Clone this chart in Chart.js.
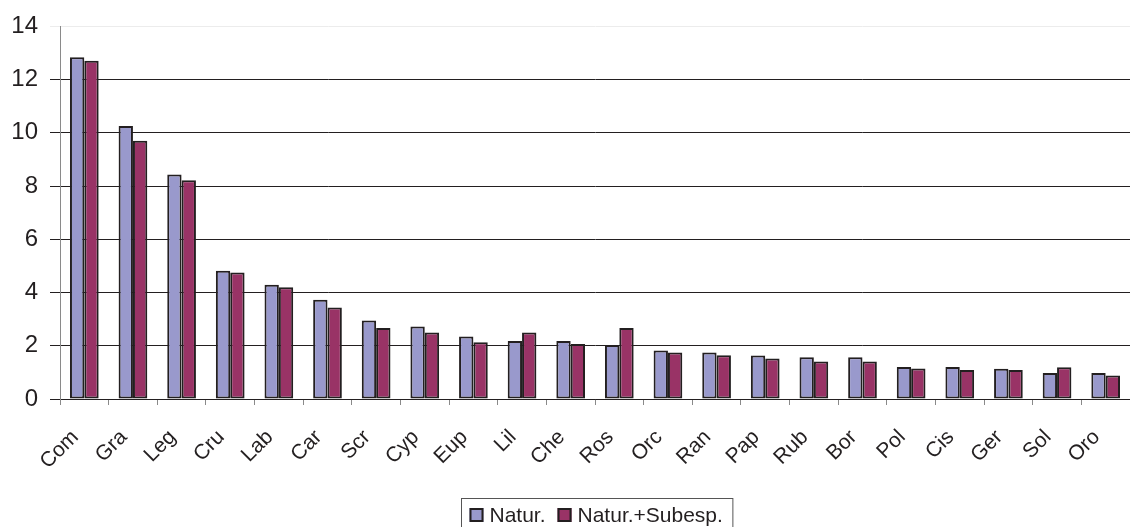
<!DOCTYPE html>
<html>
<head>
<meta charset="utf-8">
<script src="https://cdn.jsdelivr.net/npm/chart.js@4/dist/chart.umd.min.js"></script>
<style>
  html, body { margin: 0; padding: 0; background: #fff; }
  canvas { display: block; }
</style>
</head>
<body>
<canvas id="famChart" width="1130" height="527"></canvas>
<script>
var families = ['Com', 'Gra', 'Leg', 'Cru', 'Lab', 'Car', 'Scr', 'Cyp', 'Eup', 'Lil', 'Che',
    'Ros', 'Orc', 'Ran', 'Pap', 'Rub', 'Bor', 'Pol', 'Cis', 'Ger', 'Sol', 'Oro'];
var natur = [12.84, 10.26, 8.44, 4.82, 4.29, 3.73, 2.95, 2.72, 2.35, 2.18, 2.18,
    2.03, 1.82, 1.75, 1.63, 1.57, 1.57, 1.20, 1.20, 1.14, 0.98, 0.98];
var naturSubesp = [12.71, 9.70, 8.22, 4.75, 4.20, 3.44, 2.67, 2.50, 2.13, 2.50, 2.07,
    2.67, 1.75, 1.64, 1.52, 1.41, 1.41, 1.15, 1.09, 1.09, 1.19, 0.88];
var seriesNames = ['Natur.', 'Natur.+Subesp.'];
var yTicks = [0, 2, 4, 6, 8, 10, 12, 14];

var FONT = "'Liberation Sans', Arial, sans-serif";
var INK = '#231f20';

// legend in a framed box, like the original
var boxLegend = {
    id: 'boxLegend',
    afterDraw: function (chart) {
        var c = chart.ctx;
        var sets = chart.data.datasets;
        c.save();
        c.font = '21px ' + FONT;
        c.textBaseline = 'middle';
        var sw = 14, gap = 6, between = 12, padL = 8, padR = 10;
        var total = padL + padR;
        sets.forEach(function (ds, i) {
            total += sw + gap + c.measureText(ds.label).width;
            if (i > 0) total += between;
        });
        var area = chart.chartArea;
        var left = Math.round((area.left + area.right) / 2 - total / 2 + 2) + 0.5;
        var top = 498.5;
        c.strokeStyle = '#555';
        c.lineWidth = 1;
        c.strokeRect(left, top, total, 40);
        var x = left + padL;
        var cy = 515;
        sets.forEach(function (ds) {
            c.fillStyle = ds.backgroundColor;
            c.fillRect(x, cy - 7, sw, sw);
            c.strokeStyle = INK;
            c.lineWidth = 2;
            c.strokeRect(x + 1, cy - 6, sw - 2, sw - 2);
            x += sw + gap;
            c.fillStyle = INK;
            c.fillText(ds.label, x, cy + 1);
            x += c.measureText(ds.label).width + between;
        });
        c.restore();
    }
};

var ctx = document.getElementById('famChart').getContext('2d');
var famChart = new Chart(ctx, {
    type: 'bar',
    data: {
        labels: families,
        datasets: [{
            label: seriesNames[0],
            data: natur,
            backgroundColor: '#9999cc',
            borderColor: INK,
            borderWidth: 2,
            borderSkipped: false
        }, {
            label: seriesNames[1],
            data: naturSubesp,
            backgroundColor: '#993366',
            borderColor: INK,
            borderWidth: 2,
            borderSkipped: false
        }]
    },
    options: {
        responsive: false,
        animation: false,
        layout: { padding: { top: 26, right: 0, bottom: 58, left: 0 } },
        plugins: {
            legend: { display: false },
            tooltip: { enabled: false }
        },
        datasets: {
            bar: { categoryPercentage: 0.59, barPercentage: 1.0 }
        },
        scales: {
            x: {
                offset: true,
                grid: {
                    offset: true,
                    drawOnChartArea: false,
                    drawTicks: true,
                    tickLength: 6,
                    color: '#8a8a8a'
                },
                border: { color: INK, width: 1 },
                ticks: {
                    autoSkip: false,
                    maxRotation: 45,
                    minRotation: 45,
                    padding: 20,
                    labelOffset: -9,
                    color: INK,
                    font: { family: FONT, size: 21 }
                },
                afterFit: function (scale) {
                    scale.height = 70;
                    // plot runs right to the edge, as in the original
                    scale.paddingLeft = 0;
                    scale.paddingRight = 0;
                }
            },
            y: {
                min: 0,
                max: 14,
                afterBuildTicks: function (scale) {
                    scale.ticks = yTicks.map(function (v) { return { value: v }; });
                },
                grid: {
                    color: function (c) { return c.tick && c.tick.value === 14 ? '#ececec' : INK; },
                    lineWidth: 1,
                    tickLength: 10
                },
                border: { color: '#8a8a8a', width: 1 },
                ticks: {
                    padding: 12,
                    color: INK,
                    font: { family: FONT, size: 24 }
                },
                afterFit: function (scale) { scale.width = 60; }
            }
        }
    },
    plugins: [boxLegend]
});
</script>
</body>
</html>
